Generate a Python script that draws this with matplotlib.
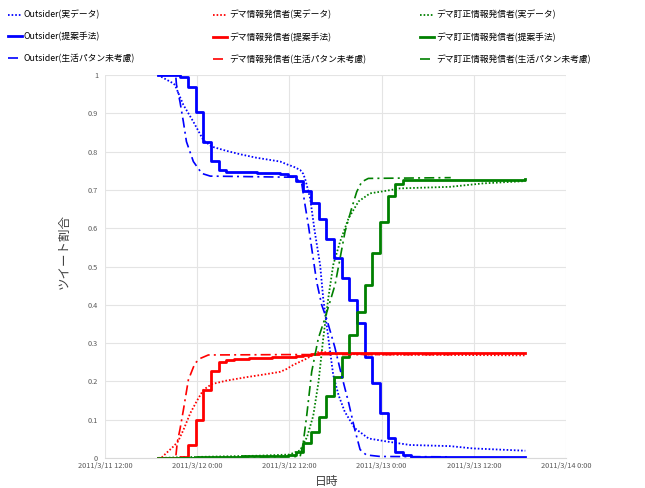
import matplotlib
matplotlib.use("Agg")
import matplotlib.pyplot as plt
from matplotlib.lines import Line2D

plt.rcParams["font.family"] = ["Noto Sans CJK JP", "DejaVu Sans"]

# 時間軸: 2011/3/11 12:00 からの経過時間 [h]
x_ticks = [0, 12, 24, 36, 48, 60]
x_labels = ["2011/3/11 12:00", "2011/3/12 0:00", "2011/3/12 12:00",
            "2011/3/13 0:00", "2011/3/13 12:00", "2011/3/14 0:00"]
y_ticks = [0, 0.1, 0.2, 0.3, 0.4, 0.5, 0.6, 0.7, 0.8, 0.9, 1.0]
y_labels = ["0", "0.1", "0.2", "0.3", "0.4", "0.5", "0.6", "0.7", "0.8", "0.9", "1"]

# 提案手法 (1時間ごとの階段)
step_t = [6.9, 9.8, 10.8, 11.8, 12.8, 13.8, 14.8, 15.8, 16.8, 17.8, 18.8,
          19.8, 20.8, 21.8, 22.8, 23.8, 24.8, 25.8, 26.8, 27.8, 28.8, 29.8,
          30.8, 31.8, 32.8, 33.8, 34.8, 35.8, 36.8, 37.8, 38.8, 39.8, 54.7]
blue_prop = [1.0, 0.995, 0.969, 0.904, 0.824, 0.775, 0.752, 0.748, 0.747, 0.746,
             0.746, 0.745, 0.744, 0.743, 0.742, 0.736, 0.722, 0.698, 0.667, 0.623,
             0.571, 0.521, 0.471, 0.412, 0.352, 0.265, 0.195, 0.117, 0.051, 0.016,
             0.008, 0.003, 0.003]
red_prop = [0.0, 0.003, 0.034, 0.099, 0.178, 0.228, 0.251, 0.257, 0.258, 0.259,
            0.260, 0.261, 0.262, 0.263, 0.264, 0.265, 0.267, 0.269, 0.271, 0.273,
            0.274, 0.275, 0.275, 0.275, 0.275, 0.275, 0.275, 0.275, 0.275, 0.275,
            0.275, 0.275, 0.275]
green_prop = [0.0, 0.001, 0.001, 0.002, 0.002, 0.002, 0.003, 0.003, 0.003, 0.004,
              0.004, 0.005, 0.005, 0.006, 0.006, 0.008, 0.016, 0.038, 0.069, 0.108,
              0.162, 0.211, 0.265, 0.321, 0.382, 0.452, 0.536, 0.617, 0.684, 0.715,
              0.726, 0.727, 0.728]

# 実データ
blue_real_t = [6.9, 8.9, 9.1, 10.2, 11.5, 12.8, 13.9, 15.8, 17.6, 19.7, 22.8, 23.9,
               24.5, 25.4, 25.8, 26.1, 26.7, 27.3, 28.0, 28.4, 28.85, 29.3, 29.7,
               30.4, 31.2, 32.5, 34.3, 36.7, 39.7, 41.4, 44.9, 47.9, 54.7]
blue_real = [1.0, 0.978, 0.974, 0.922, 0.878, 0.830, 0.813, 0.802, 0.793, 0.784,
             0.774, 0.765, 0.761, 0.752, 0.742, 0.725, 0.678, 0.591, 0.504, 0.417,
             0.347, 0.278, 0.217, 0.164, 0.121, 0.078, 0.051, 0.043, 0.034, 0.033,
             0.031, 0.025, 0.019]
red_real_t = [6.9, 7.4, 8.9, 9.5, 10.2, 11.1, 11.9, 12.8, 13.9, 15.8, 18.4, 21.0,
              22.8, 23.6, 24.5, 26.3, 27.6, 28.4, 30.0, 35.0, 45.0, 54.7]
red_real = [0.0, 0.002, 0.03, 0.043, 0.073, 0.117, 0.147, 0.178, 0.193, 0.202,
            0.211, 0.219, 0.225, 0.232, 0.243, 0.26, 0.276, 0.277, 0.272, 0.27,
            0.269, 0.268]
green_real_t = [6.9, 10.0, 15.0, 20.0, 24.0, 25.4, 26.3, 27.1, 27.8, 28.4, 29.06,
                29.7, 30.6, 31.7, 33.0, 34.5, 36.7, 38.4, 44.9, 49.2, 54.7]
green_real = [0.0, 0.002, 0.004, 0.006, 0.009, 0.02, 0.055, 0.11, 0.2, 0.312, 0.417,
              0.504, 0.565, 0.626, 0.67, 0.691, 0.698, 0.704, 0.708, 0.717, 0.723]

# 生活パタン未考慮
blue_naive_t = [6.9, 9.2, 9.3, 9.76, 10.2, 10.6, 11.5, 12.6, 13.7, 24.7, 25.6, 26.0,
                26.5, 26.9, 27.55, 28.2, 28.9, 29.9, 30.8, 31.7, 32.5, 33.2, 34.0,
                35.8, 45.0]
blue_naive = [1.0, 1.0, 0.975, 0.93, 0.878, 0.826, 0.774, 0.743, 0.736, 0.733, 0.717,
              0.665, 0.604, 0.548, 0.46, 0.40, 0.36, 0.29, 0.215, 0.145, 0.075,
              0.022, 0.008, 0.004, 0.003]
red_naive_t = [6.9, 9.2, 9.4, 9.76, 10.2, 10.85, 11.7, 12.4, 13.45, 24.0, 45.0]
red_naive = [0.0, 0.0, 0.04, 0.075, 0.125, 0.204, 0.247, 0.26, 0.269, 0.27, 0.27]
green_naive_t = [6.9, 9.2, 20.0, 25.4, 25.8, 26.25, 26.9, 27.76, 28.63, 29.28, 29.94,
                 30.59, 31.24, 32.1, 32.76, 33.41, 34.27, 45.0]
green_naive = [0.0, 0.0, 0.002, 0.004, 0.04, 0.11, 0.225, 0.312, 0.365, 0.408, 0.452,
               0.521, 0.591, 0.652, 0.695, 0.721, 0.730, 0.732]

groups = ["Outsider", "デマ情報発信者", "デマ訂正情報発信者"]
colors = ["#0000ff", "#ff0000", "#008000"]

DOT = (0, (0.9, 1.1))
DASHDOT = (0, (6, 2.5, 1.2, 2.5))
LW_DOT, LW_SOLID, LW_DD = 1.3, 2.0, 1.2

fig = plt.figure(figsize=(6.45, 4.88), dpi=100)
ax = fig.add_axes([105 / 645, 30 / 488, 461 / 645, 383 / 488])

real = [(blue_real_t, blue_real), (red_real_t, red_real), (green_real_t, green_real)]
prop = [blue_prop, red_prop, green_prop]
naive = [(blue_naive_t, blue_naive), (red_naive_t, red_naive),
         (green_naive_t, green_naive)]

for (t, v), c in zip(real, colors):
    ax.plot(t, v, color=c, lw=LW_DOT, ls=DOT)
for v, c in zip(prop, colors):
    ax.step(step_t, v, where="post", color=c, lw=LW_SOLID)
for (t, v), c in zip(naive, colors):
    ax.plot(t, v, color=c, lw=LW_DD, ls=DASHDOT)

ax.set_xlim(0, 60)
ax.set_ylim(0, 1)
ax.set_xticks(x_ticks)
ax.set_xticklabels(x_labels)
ax.set_yticks(y_ticks)
ax.set_yticklabels(y_labels)
ax.tick_params(length=0, labelsize=5.3, labelcolor="#595959")
ax.tick_params(axis="x", pad=3)
ax.tick_params(axis="y", pad=5)
ax.grid(True, color="#e4e4e4", lw=0.8)
ax.set_axisbelow(True)
for s in ["top", "right", "left"]:
    ax.spines[s].set_visible(False)
ax.spines["bottom"].set_color("#d9d9d9")

ax.set_ylabel("ツイート割合", fontsize=9, color="#404040")
ax.yaxis.set_label_coords(-0.075, 0.54)
ax.set_xlabel("日時", fontsize=8.5, color="#404040")
ax.xaxis.set_label_coords(0.48, -0.044)

# 凡例: 列ごとに3つ
col_x = [8, 213, 420]
for gname, c, x0 in zip(groups, colors, col_x):
    handles = [
        Line2D([], [], color=c, lw=LW_DOT, ls=DOT),
        Line2D([], [], color=c, lw=LW_SOLID),
        Line2D([], [], color=c, lw=LW_DD, ls=DASHDOT),
    ]
    labels = [f"{gname}(実データ)", f"{gname}(提案手法)", f"{gname}(生活パタン未考慮)"]
    fig.legend(handles, labels, loc="upper left",
               bbox_to_anchor=(x0 / 645, 1 - 10 / 488),
               frameon=False, fontsize=6.3, handlelength=1.6, handletextpad=0.2,
               borderpad=0, borderaxespad=0, labelspacing=1.45)

fig.savefig("out.png", dpi=100, facecolor="white")
